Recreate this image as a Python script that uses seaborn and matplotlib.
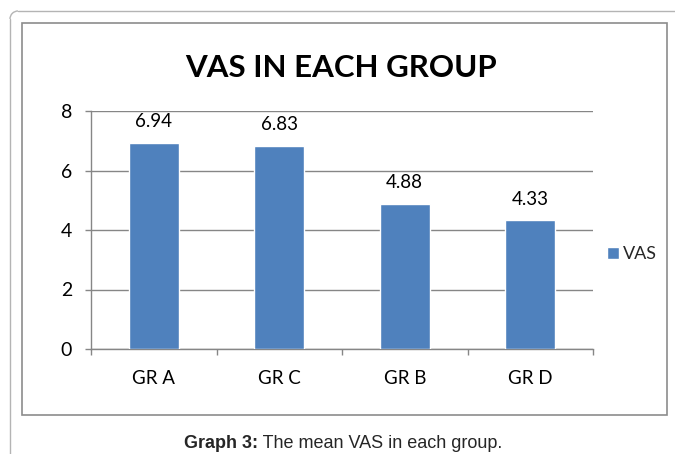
import matplotlib
matplotlib.use("Agg")
import matplotlib.pyplot as plt
import seaborn as sns
import pandas as pd
from matplotlib.patches import Rectangle, Arc

categories = ["GR A", "GR C", "GR B", "GR D"]
vas_values = [6.94, 6.83, 4.88, 4.33]
value_labels = ["6.94", "6.83", "4.88", "4.33"]
y_ticks = [0, 2, 4, 6, 8]
series_name = "VAS"
title = "VAS IN EACH GROUP"

sns.set_theme(style="white")
plt.rcParams['font.family'] = ['Lato', 'DejaVu Sans']

W, H = 675, 454
fig = plt.figure(figsize=(W / 100, H / 100), dpi=100)

def fx(px):
    return px / W

def fy(py):
    return 1 - py / H

# background axes in pixel coordinates for frames
bg = fig.add_axes([0, 0, 1, 1], zorder=-1)
bg.set_xlim(0, W)
bg.set_ylim(H, 0)
bg.axis("off")
r = 8
c_out = "#b4b4b4"
bg.plot([10 + r, W + 5], [11, 11], color=c_out, lw=1.0)
bg.plot([10, 10], [11 + r, H + 5], color=c_out, lw=1.0)
bg.add_patch(Arc((10 + r, 11 + r), 2 * r, 2 * r, theta1=180, theta2=270,
                 color=c_out, lw=1.0))
bg.add_patch(Rectangle((22, 23), 645, 392, fill=False, edgecolor="#8c8c8c",
                       lw=1.2))

ax = fig.add_axes([fx(91), fy(349), fx(593) - fx(91), fy(111) - fy(349)])
df = pd.DataFrame({"group": categories, "vas": vas_values})
sns.barplot(data=df, x="group", y="vas", color="#4F81BD", width=0.4,
            saturation=1, label=series_name, ax=ax, zorder=3)

ax.set_ylim(0, 8)
ax.set_xlim(-0.5, len(categories) - 0.5)
ax.set_yticks(y_ticks)
ax.set_yticklabels([str(t) for t in y_ticks], fontsize=14)
ax.set_xlabel("")
ax.set_ylabel("")
ax.set_facecolor("none")

for s in ["top", "right"]:
    ax.spines[s].set_visible(False)
for s in ["left", "bottom"]:
    ax.spines[s].set_color("#868686")
    ax.spines[s].set_linewidth(1.0)

ax.yaxis.grid(True, color="#868686", linewidth=1.0, zorder=0)
ax.xaxis.grid(False)
ax.tick_params(axis="y", which="major", left=True, length=4.5, width=1.0,
               color="#868686", pad=9, labelcolor="black")
ax.set_xticks(range(len(categories)))
ax.set_xticklabels(categories, fontsize=13.5)
ax.set_xticks([i - 0.5 for i in range(len(categories) + 1)], minor=True)
ax.tick_params(axis="x", which="major", bottom=False, length=0, pad=15,
               labelcolor="black")
ax.tick_params(axis="x", which="minor", bottom=True, length=4.5, width=1.0,
               color="#868686")

ax.bar_label(ax.containers[0], labels=value_labels, padding=9, fontsize=13.5,
             color="black")

fig.text(fx(341), fy(68), title, ha="center", va="center", fontsize=22.5,
         fontweight="bold", color="black")

handles, labels = ax.get_legend_handles_labels()
ax.legend(handles, labels, loc="center left",
          bbox_to_anchor=(fx(598), fy(254)), bbox_transform=fig.transFigure,
          frameon=False, fontsize=13, handlelength=0.65, handleheight=0.65,
          handletextpad=0.25, borderpad=0)

# caption: bold prefix + regular text, centred together
part1 = "Graph 3:"
part2 = " The mean VAS in each group."
t1 = fig.text(0, fy(443), part1, ha="left", va="center", fontsize=13,
              fontweight="bold", family="Liberation Sans")
t2 = fig.text(0, fy(443), part2, ha="left", va="center", fontsize=13,
              family="Liberation Sans")
fig.canvas.draw()
rend = fig.canvas.get_renderer()
w1 = t1.get_window_extent(rend).width
w2 = t2.get_window_extent(rend).width
x0 = 343 - (w1 + w2) / 2
t1.set_x(x0 / W)
t2.set_x((x0 + w1) / W)

fig.savefig("out.png", dpi=100)
